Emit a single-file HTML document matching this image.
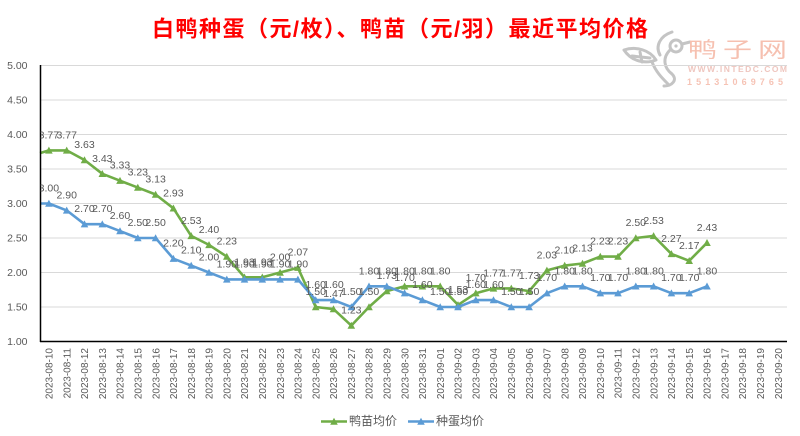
<!DOCTYPE html>
<html><head><meta charset="utf-8"><style>
html,body{margin:0;padding:0;background:#fff;}
svg{display:block;}
</style></head><body>
<svg width="800" height="436" viewBox="0 0 800 436" xmlns="http://www.w3.org/2000/svg" font-family="Liberation Sans, Noto Sans CJK SC, sans-serif">
<defs>
<marker id="mg" markerUnits="userSpaceOnUse" markerWidth="10" markerHeight="10" refX="5" refY="5" orient="0" overflow="visible"><path d="M1.2,8.2 L8.8,8.2 L5,1.2 Z" fill="#70ad47"/></marker>
<marker id="mb" markerUnits="userSpaceOnUse" markerWidth="10" markerHeight="10" refX="5" refY="5" orient="0" overflow="visible"><path d="M1.2,8.2 L8.8,8.2 L5,1.2 Z" fill="#5b9bd5"/></marker>
<clipPath id="pc"><rect x="40.5" y="0" width="760" height="436"/></clipPath>
</defs>
<rect width="800" height="436" fill="#fff"/>

<!-- Title -->
<text x="400" y="36.5" text-anchor="middle" font-size="22" font-weight="bold" fill="#ff0000" textLength="496" lengthAdjust="spacing">白鸭种蛋（元/枚）、鸭苗（元/羽）最近平均价格</text>

<!-- Logo watermark -->
<g fill="none" stroke="#c4c4c4" stroke-width="3" stroke-linecap="round" stroke-linejoin="round">
<path d="M672,32 C660,36 655,46 660,55"/>
<circle cx="676" cy="46" r="6"/>
<path d="M682,44 L690,42"/>
<path d="M670,50 C662,58 664,68 672,74 C678,80 672,86 664,86"/>
<path d="M624,50 C636,46 650,50 656,60 C646,64 632,62 624,50 Z"/>
<path d="M632,56 L650,58 M640,52 L642,62"/>
<path d="M652,62 C656,72 662,78 668,84"/>
</g>
<circle cx="676" cy="46" r="1.6" fill="#c4c4c4"/>
<g transform="translate(688,57) scale(1,0.72)">
<text x="0" y="0" font-size="29" fill="#f6c0b0" font-family="Noto Sans CJK SC, sans-serif" textLength="99" lengthAdjust="spacing">鸭子网</text>
</g>
<text x="688" y="72" font-size="8.5" font-weight="bold" fill="#efc6bf" textLength="99" lengthAdjust="spacing">WWW.INTEDC.COM</text>
<text x="687" y="85" font-size="9" font-weight="bold" fill="#f6c3b5" textLength="96" lengthAdjust="spacing">15131069765</text>

<!-- Gridlines -->
<g stroke="#d9d9d9" stroke-width="1">
<line x1="40" y1="65.5" x2="787" y2="65.5"/>
<line x1="40" y1="100" x2="787" y2="100"/>
<line x1="40" y1="134.5" x2="787" y2="134.5"/>
<line x1="40" y1="169" x2="787" y2="169"/>
<line x1="40" y1="203.5" x2="787" y2="203.5"/>
<line x1="40" y1="238" x2="787" y2="238"/>
<line x1="40" y1="272.5" x2="787" y2="272.5"/>
<line x1="40" y1="307" x2="787" y2="307"/>
</g>

<!-- Y tick labels -->
<g font-size="10.5" fill="#595959" text-anchor="end">
<text x="27.5" y="69.2">5.00</text>
<text x="27.5" y="103.7">4.50</text>
<text x="27.5" y="138.2">4.00</text>
<text x="27.5" y="172.7">3.50</text>
<text x="27.5" y="207.2">3.00</text>
<text x="27.5" y="241.7">2.50</text>
<text x="27.5" y="276.2">2.00</text>
<text x="27.5" y="310.7">1.50</text>
<text x="27.5" y="345.2">1.00</text>
</g>

<!-- Series lines -->
<polyline fill="none" stroke="#70ad47" stroke-width="2.6" stroke-linejoin="round" marker-mid="url(#mg)" marker-end="url(#mg)" points="40,153.1 48.9,150.4 66.7,150.4 84.5,160.0 102.3,173.8 120.0,180.7 137.8,187.6 155.6,194.5 173.4,208.3 191.2,235.9 209.0,244.9 226.8,256.6 244.5,277.3 262.3,277.3 280.1,272.5 297.9,267.7 315.7,307.0 333.5,309.1 351.3,325.6 369.0,307.0 386.8,291.1 404.6,286.3 422.4,286.3 440.2,286.3 458.0,304.9 475.8,293.2 493.5,288.4 511.3,288.4 529.1,291.1 546.9,270.4 564.7,265.6 582.5,263.5 600.3,256.6 618.0,256.6 635.8,238.0 653.6,235.9 671.4,253.9 689.2,260.8 707.0,242.8"/>
<polyline fill="none" stroke="#5b9bd5" stroke-width="2.6" stroke-linejoin="round" marker-mid="url(#mb)" marker-end="url(#mb)" points="40,203.5 48.9,203.5 66.7,210.4 84.5,224.2 102.3,224.2 120.0,231.1 137.8,238.0 155.6,238.0 173.4,258.7 191.2,265.6 209.0,272.5 226.8,279.4 244.5,279.4 262.3,279.4 280.1,279.4 297.9,279.4 315.7,300.1 333.5,300.1 351.3,307.0 369.0,286.3 386.8,286.3 404.6,293.2 422.4,300.1 440.2,307.0 458.0,307.0 475.8,300.1 493.5,300.1 511.3,307.0 529.1,307.0 546.9,293.2 564.7,286.3 582.5,286.3 600.3,293.2 618.0,293.2 635.8,286.3 653.6,286.3 671.4,293.2 689.2,293.2 707.0,286.3"/>

<!-- Axes -->
<line x1="40.5" y1="65" x2="40.5" y2="342" stroke="#000" stroke-width="1.5"/>
<line x1="40" y1="341.5" x2="787" y2="341.5" stroke="#000" stroke-width="1.6"/>

<!-- Data labels -->
<g font-size="10.5" fill="#595959" text-anchor="middle" clip-path="url(#pc)">
<text x="48.9" y="138.4">3.77</text>
<text x="66.7" y="138.4">3.77</text>
<text x="84.5" y="148.0">3.63</text>
<text x="102.3" y="161.8">3.43</text>
<text x="120.0" y="168.7">3.33</text>
<text x="137.8" y="175.6">3.23</text>
<text x="155.6" y="182.5">3.13</text>
<text x="173.4" y="196.3">2.93</text>
<text x="191.2" y="223.9">2.53</text>
<text x="209.0" y="232.9">2.40</text>
<text x="226.8" y="244.6">2.23</text>
<text x="244.5" y="265.3">1.93</text>
<text x="262.3" y="265.3">1.93</text>
<text x="280.1" y="260.5">2.00</text>
<text x="297.9" y="255.7">2.07</text>
<text x="315.7" y="295.0">1.50</text>
<text x="333.5" y="297.1">1.47</text>
<text x="351.3" y="313.6">1.23</text>
<text x="369.0" y="295.0">1.50</text>
<text x="386.8" y="279.1">1.73</text>
<text x="404.6" y="274.3">1.80</text>
<text x="422.4" y="274.3">1.80</text>
<text x="440.2" y="274.3">1.80</text>
<text x="458.0" y="292.9">1.53</text>
<text x="475.8" y="281.2">1.70</text>
<text x="493.5" y="276.4">1.77</text>
<text x="511.3" y="276.4">1.77</text>
<text x="529.1" y="279.1">1.73</text>
<text x="546.9" y="258.4">2.03</text>
<text x="564.7" y="253.6">2.10</text>
<text x="582.5" y="251.5">2.13</text>
<text x="600.3" y="244.6">2.23</text>
<text x="618.0" y="244.6">2.23</text>
<text x="635.8" y="226.0">2.50</text>
<text x="653.6" y="223.9">2.53</text>
<text x="671.4" y="241.9">2.27</text>
<text x="689.2" y="248.8">2.17</text>
<text x="707.0" y="230.8">2.43</text>

<text x="48.9" y="191.5">3.00</text>
<text x="66.7" y="198.4">2.90</text>
<text x="84.5" y="212.2">2.70</text>
<text x="102.3" y="212.2">2.70</text>
<text x="120.0" y="219.1">2.60</text>
<text x="137.8" y="226.0">2.50</text>
<text x="155.6" y="226.0">2.50</text>
<text x="173.4" y="246.7">2.20</text>
<text x="191.2" y="253.6">2.10</text>
<text x="209.0" y="260.5">2.00</text>
<text x="226.8" y="267.4">1.90</text>
<text x="244.5" y="267.4">1.90</text>
<text x="262.3" y="267.4">1.90</text>
<text x="280.1" y="267.4">1.90</text>
<text x="297.9" y="267.4">1.90</text>
<text x="315.7" y="288.1">1.60</text>
<text x="333.5" y="288.1">1.60</text>
<text x="351.3" y="295.0">1.50</text>
<text x="369.0" y="274.3">1.80</text>
<text x="386.8" y="274.3">1.80</text>
<text x="404.6" y="281.2">1.70</text>
<text x="422.4" y="288.1">1.60</text>
<text x="440.2" y="295.0">1.50</text>
<text x="458.0" y="295.0">1.50</text>
<text x="475.8" y="288.1">1.60</text>
<text x="493.5" y="288.1">1.60</text>
<text x="511.3" y="295.0">1.50</text>
<text x="529.1" y="295.0">1.50</text>
<text x="546.9" y="281.2">1.70</text>
<text x="564.7" y="274.3">1.80</text>
<text x="582.5" y="274.3">1.80</text>
<text x="600.3" y="281.2">1.70</text>
<text x="618.0" y="281.2">1.70</text>
<text x="635.8" y="274.3">1.80</text>
<text x="653.6" y="274.3">1.80</text>
<text x="671.4" y="281.2">1.70</text>
<text x="689.2" y="281.2">1.70</text>
<text x="707.0" y="274.3">1.80</text>
</g>

<!-- X axis labels -->
<g font-size="10" fill="#595959" text-anchor="end">
<text transform="translate(52.6,348) rotate(-90)">2023-08-10</text>
<text transform="translate(70.4,348) rotate(-90)">2023-08-11</text>
<text transform="translate(88.2,348) rotate(-90)">2023-08-12</text>
<text transform="translate(106.0,348) rotate(-90)">2023-08-13</text>
<text transform="translate(123.7,348) rotate(-90)">2023-08-14</text>
<text transform="translate(141.5,348) rotate(-90)">2023-08-15</text>
<text transform="translate(159.3,348) rotate(-90)">2023-08-16</text>
<text transform="translate(177.1,348) rotate(-90)">2023-08-17</text>
<text transform="translate(194.9,348) rotate(-90)">2023-08-18</text>
<text transform="translate(212.7,348) rotate(-90)">2023-08-19</text>
<text transform="translate(230.5,348) rotate(-90)">2023-08-20</text>
<text transform="translate(248.2,348) rotate(-90)">2023-08-21</text>
<text transform="translate(266.0,348) rotate(-90)">2023-08-22</text>
<text transform="translate(283.8,348) rotate(-90)">2023-08-23</text>
<text transform="translate(301.6,348) rotate(-90)">2023-08-24</text>
<text transform="translate(319.4,348) rotate(-90)">2023-08-25</text>
<text transform="translate(337.2,348) rotate(-90)">2023-08-26</text>
<text transform="translate(355.0,348) rotate(-90)">2023-08-27</text>
<text transform="translate(372.7,348) rotate(-90)">2023-08-28</text>
<text transform="translate(390.5,348) rotate(-90)">2023-08-29</text>
<text transform="translate(408.3,348) rotate(-90)">2023-08-30</text>
<text transform="translate(426.1,348) rotate(-90)">2023-08-31</text>
<text transform="translate(443.9,348) rotate(-90)">2023-09-01</text>
<text transform="translate(461.7,348) rotate(-90)">2023-09-02</text>
<text transform="translate(479.5,348) rotate(-90)">2023-09-03</text>
<text transform="translate(497.2,348) rotate(-90)">2023-09-04</text>
<text transform="translate(515.0,348) rotate(-90)">2023-09-05</text>
<text transform="translate(532.8,348) rotate(-90)">2023-09-06</text>
<text transform="translate(550.6,348) rotate(-90)">2023-09-07</text>
<text transform="translate(568.4,348) rotate(-90)">2023-09-08</text>
<text transform="translate(586.2,348) rotate(-90)">2023-09-09</text>
<text transform="translate(604.0,348) rotate(-90)">2023-09-10</text>
<text transform="translate(621.7,348) rotate(-90)">2023-09-11</text>
<text transform="translate(639.5,348) rotate(-90)">2023-09-12</text>
<text transform="translate(657.3,348) rotate(-90)">2023-09-13</text>
<text transform="translate(675.1,348) rotate(-90)">2023-09-14</text>
<text transform="translate(692.9,348) rotate(-90)">2023-09-15</text>
<text transform="translate(710.7,348) rotate(-90)">2023-09-16</text>
<text transform="translate(728.5,348) rotate(-90)">2023-09-17</text>
<text transform="translate(746.2,348) rotate(-90)">2023-09-18</text>
<text transform="translate(764.0,348) rotate(-90)">2023-09-19</text>
<text transform="translate(781.8,348) rotate(-90)">2023-09-20</text>
</g>

<!-- Legend -->
<line x1="321" y1="421.5" x2="347" y2="421.5" stroke="#70ad47" stroke-width="2.6"/>
<path d="M330.2,424.7 L337.8,424.7 L334,417.7 Z" fill="#70ad47"/>
<text x="349" y="425" font-size="12" fill="#595959">鸭苗均价</text>
<line x1="408" y1="421.5" x2="434" y2="421.5" stroke="#5b9bd5" stroke-width="2.6"/>
<path d="M417.2,424.7 L424.8,424.7 L421,417.7 Z" fill="#5b9bd5"/>
<text x="436" y="425" font-size="12" fill="#595959">种蛋均价</text>
</svg>
</body></html>
